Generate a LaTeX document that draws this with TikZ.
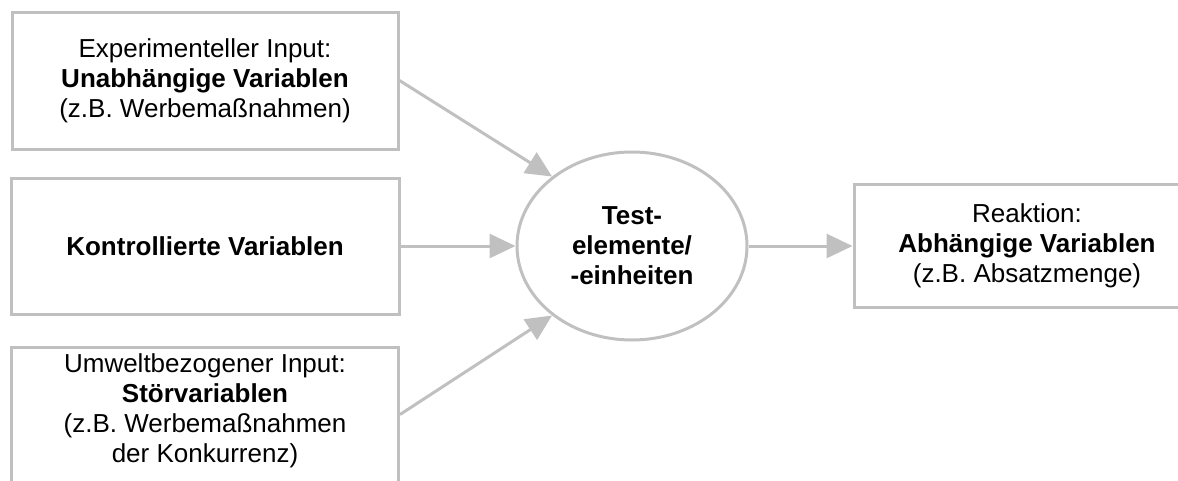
\documentclass[tikz,border=0pt]{standalone}
\usepackage{fontspec}
\setmainfont{Liberation Sans}
\usetikzlibrary{arrows.meta, positioning, shapes.geometric}

\definecolor{rahmengrau}{HTML}{C0C0C0}

\begin{document}
\begin{tikzpicture}[
	x = 1pt, y = -1pt,
	font = \fontsize{26}{30}\selectfont,
	kasten/.style = {draw=rahmengrau, line width=3pt, align=center, inner sep=0pt},
	oval/.style = {ellipse, draw=rahmengrau, line width=3pt, align=center, inner sep=0pt, font=\fontsize{26}{30}\selectfont\bfseries},
	arrow/.style = {-{Triangle[length=26pt, width=24pt]}, draw=rahmengrau, line width=3pt},
	node distance = 26pt and 104pt
]

\useasboundingbox (0, 0) rectangle (1178, 480);
\clip (0, 0) rectangle (1178, 480);

\node[kasten, minimum width=386pt, minimum height=137pt] (unabh) at (205, 80.5) {Experimenteller Input:\\\textbf{Unabhängige Variablen}\\(z.B. Werbemaßnahmen)};
\node[kasten, below=of unabh, minimum width=388pt, minimum height=136pt] (kontr) {\textbf{Kontrollierte Variablen}};
\node[kasten, below=30pt of kontr, minimum width=387pt] (stoer) {\parbox[c][170pt][t]{380pt}{\centering\rule{0pt}{25pt}Umweltbezogener Input:\\\textbf{Störvariablen}\\(z.B. Werbemaßnahmen\\der Konkurrenz)}};

\node[oval, minimum width=230pt, minimum height=188pt] (test) at (632, 246) {Test-\\elemente/\\-einheiten};
\node[kasten, right=of test, minimum width=346pt, minimum height=123pt] (reakt) {Reaktion:\\\textbf{Abhängige Variablen}\\(z.B. Absatzmenge)};

\draw[arrow] (unabh.east) -- (test.139);
\draw[arrow] (kontr) -- (test);
\draw[arrow] ([yshift=-69pt]stoer.north east) -- (test.221);
\draw[arrow] (test) -- (reakt);

\end{tikzpicture}
\end{document}
